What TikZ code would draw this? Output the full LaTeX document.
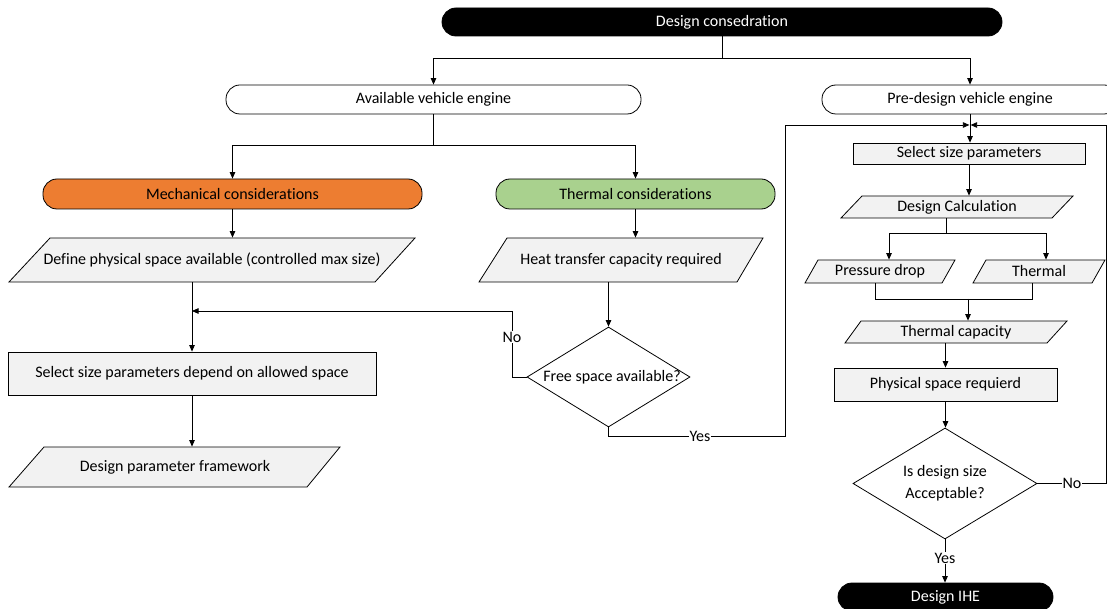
\documentclass[tikz,border=0pt]{standalone}
\usepackage{fontspec}
\setmainfont[Ligatures={NoCommon}]{Carlito}
\usetikzlibrary{arrows.meta,shapes.geometric,calc}
\definecolor{boxgray}{HTML}{F2F2F2}
\definecolor{mechor}{HTML}{ED7D31}
\definecolor{thgreen}{HTML}{A9D18E}
\begin{document}
\begin{tikzpicture}[x=1pt,y=-1pt, line width=0.8pt,
  font=\fontsize{16}{18}\selectfont,
  arr/.style={-{Triangle[length=6.5pt,width=5.5pt]}},
  pill/.style={draw, rounded corners=14pt, inner sep=0pt},
  procbox/.style={draw, fill=boxgray, inner sep=0pt},
  paratxt/.style={inner sep=0pt},
  parashape/.style={draw, fill=boxgray},
  dia/.style={draw, diamond, inner sep=0pt, fill=white},
  lbl/.style={fill=white, inner sep=1pt}]
\clip (0,0) rectangle (1107,609);
\fill[white] (0,0) rectangle (1107,609);

% ---- top ----
\node[pill, fill=black, text=white, minimum width=560pt, minimum height=28pt] (dc) at (722,22) {Design consedration};
\node[pill, fill=white, minimum width=415pt, minimum height=29pt] (avail) at (433.5,99.5) {Available vehicle engine};
\node[pill, fill=white, minimum width=296pt, minimum height=29pt] (pre) at (970,99.5) {Pre-design vehicle engine};
\node[pill, fill=mechor, minimum width=379pt, minimum height=30pt] (mech) at (232.5,194) {Mechanical considerations};
\node[pill, fill=thgreen, minimum width=279pt, minimum height=30pt] (therm) at (635.5,194) {Thermal considerations};

% ---- left column ----
\draw[parashape] (9,282) -- (50,238) -- (415,238) -- (375,282) -- cycle;
\node[paratxt, minimum width=406pt, minimum height=44pt] (defp) at (212,260) {Define physical space available (controlled max size)};
\node[procbox, minimum width=368pt, minimum height=43pt] (sel) at (192,373.5) {Select size parameters depend on allowed space};
\draw[parashape] (9,487) -- (44,447) -- (340,447) -- (307,487) -- cycle;
\node[paratxt, minimum width=331pt, minimum height=40pt] (dpf) at (175,467) {Design parameter framework};

% ---- middle column ----
\draw[parashape] (479,282) -- (507,238) -- (763,238) -- (737,282) -- cycle;
\node[paratxt, minimum width=284pt, minimum height=44pt] (heat) at (621,260) {Heat transfer capacity required};
\node[dia, minimum width=163pt, minimum height=100pt] (free) at (608.5,377) {};
\node[paratxt] (freetxt) at (612,377) {Free space available?};

% ---- right column ----
\node[procbox, minimum width=232pt, minimum height=21pt] (selR) at (969,153.5) {Select size parameters};
\draw[parashape] (841,218) -- (862,196) -- (1073,196) -- (1052,218) -- cycle;
\node[paratxt, minimum width=232pt, minimum height=22pt] (dcalc) at (957,207) {Design Calculation};
\draw[parashape] (805,283) -- (818,260) -- (955,260) -- (942,283) -- cycle;
\node[paratxt, minimum width=150pt, minimum height=23pt] (pd) at (880,271.5) {Pressure drop};
\draw[parashape] (973,283) -- (986,260) -- (1105,260) -- (1092,283) -- cycle;
\node[paratxt, minimum width=132pt, minimum height=23pt] (th) at (1039,271.5) {Thermal};
\draw[parashape] (845,343) -- (861,321) -- (1067,321) -- (1047,343) -- cycle;
\node[paratxt, minimum width=222pt, minimum height=22pt] (tcap) at (956,332) {Thermal capacity};
\node[procbox, minimum width=223pt, minimum height=33pt] (phys) at (945.5,384.5) {Physical space requierd};
\node[dia, minimum width=184pt, minimum height=111pt] (isd) at (945,483.5) {};
\node[paratxt, align=center, font=\fontsize{16}{22}\selectfont] (isdtxt) at (945,483.5) {Is design size\\Acceptable?};
\node[pill, fill=black, text=white, minimum width=215pt, minimum height=28pt] (ihe) at (945.5,597) {Design IHE};

% ---- connectors ----
\coordinate (j1) at (722,58);
\draw (dc.south) -- (j1);
\draw[arr] (j1) -| (avail.north);
\draw[arr] (j1) -| (pre.north);

\coordinate (j2) at (433.5,145);
\draw (avail.south) -- (j2);
\draw[arr] (j2) -| (mech.north);
\draw[arr] (j2) -| (therm.north);

\draw[arr] (mech.south) -- (mech.south |- defp.north);
\draw[arr] (defp.south -| sel.north) -- (sel.north);
\draw[arr] (sel.south) -- (sel.south |- dpf.north);

\draw[arr] (therm.south) -- (therm.south |- heat.north);
\draw[arr] (free.north |- heat.south) -- (free.north);

\coordinate (nb) at (512,311);
\draw[arr] (free.west) -| (nb) -- (nb -| sel.north);
\node[lbl] (no1) at (512,337) {No};

\coordinate (meet) at (970,125);
\coordinate (yb1) at (608.5,436);
\coordinate (yb2) at (785,436);
\coordinate (loopL) at (785,125);
\draw[arr] (free.south) -- (yb1) -- (yb2) -- (loopL) -- ([xshift=-0.6pt]meet);
\node[lbl] (yes1) at (700,436) {Yes};

\draw[arr] (pre.south) -- (pre.south |- selR.north);
\draw[arr] (selR.south) -- (selR.south |- dcalc.north);

\coordinate (j3) at (946,233);
\draw (dcalc.south -| j3) -- (j3);
\draw[arr] (j3) -| ([xshift=9pt]pd.north);
\draw[arr] (j3) -| ([xshift=7pt]th.north);

\coordinate (j4) at (968,299);
\draw ([xshift=-5pt]pd.south) |- (j4);
\draw ([xshift=-7pt]th.south) |- (j4);
\draw[arr] (j4) -- (j4 |- tcap.north);

\draw[arr] (phys.north |- tcap.south) -- (phys.north);
\draw[arr] (phys.south) -- (phys.south |- isd.north);
\draw[arr] (isd.south) -- (isd.south |- ihe.north);
\node[lbl] (yes2) at (945,558) {Yes};

\coordinate (rb1) at (1106.5,483.5);
\coordinate (rb2) at (1106.5,125);
\draw[arr] (isd.east) -- (rb1) -- (rb2) -- ([xshift=0.6pt]meet);
\node[lbl] (no2) at (1072,483.5) {No};
\end{tikzpicture}
\end{document}
